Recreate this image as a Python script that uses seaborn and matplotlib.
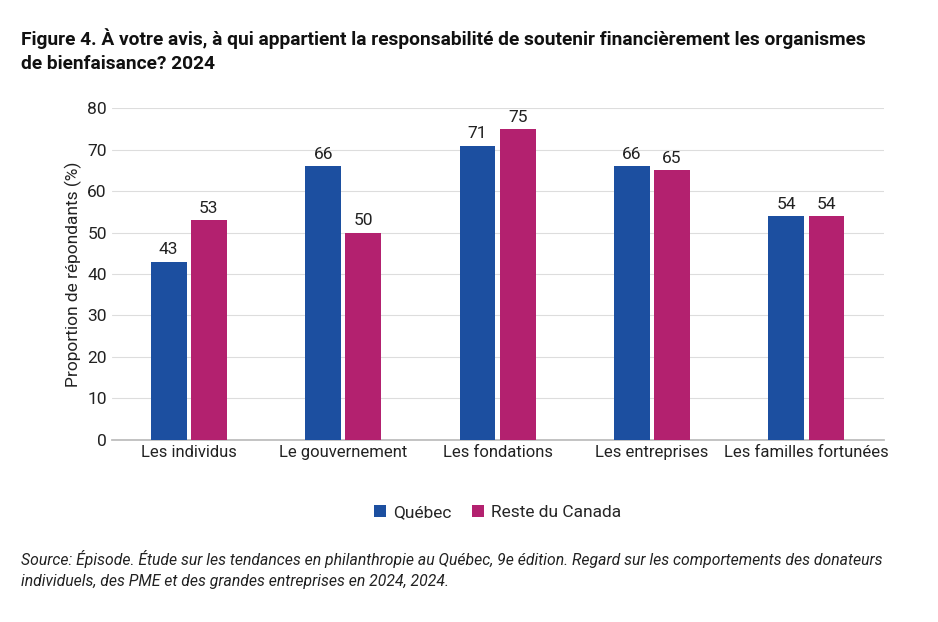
import matplotlib
matplotlib.use('Agg')
import matplotlib.pyplot as plt
import seaborn as sns
import pandas as pd

# Données
categories = ["Les individus", "Le gouvernement", "Les fondations", "Les entreprises", "Les familles fortunées"]
quebec = [43, 66, 71, 66, 54]
reste_canada = [53, 50, 75, 65, 54]
series = ["Québec", "Reste du Canada"]
couleurs = ["#1c4fa0", "#b3216f"]

df = pd.DataFrame({
    "categorie": categories * 2,
    "valeur": quebec + reste_canada,
    "groupe": [series[0]] * len(categories) + [series[1]] * len(categories),
})

sns.set_theme(style="white")
plt.rcParams['font.family'] = ['Liberation Sans Narrow', 'Roboto', 'DejaVu Sans']

fig = plt.figure(figsize=(9.38, 6.22), dpi=100)
ax = fig.add_axes([0.119, 0.293, 0.823, 0.533])

sns.barplot(data=df, x="categorie", y="valeur", hue="groupe", palette=couleurs,
            saturation=1, width=0.52, gap=0.11, ax=ax, legend=True, zorder=3,
            edgecolor="none")

for cont in ax.containers:
    ax.bar_label(cont, fmt="%d", padding=3, fontsize=12.5, color="#222222")

ax.set_ylim(0, 80)
ax.set_yticks(range(0, 81, 10))
ax.yaxis.grid(True, color="#dddddd", linewidth=0.8, zorder=0)
ax.set_axisbelow(True)
for s in ["top", "right", "left"]:
    ax.spines[s].set_visible(False)
ax.spines["bottom"].set_color("#bbbbbb")
ax.tick_params(axis="both", labelsize=12.5, colors="#222222", length=0)
ax.tick_params(axis="x", labelsize=12)
ax.set_xlabel("")
ax.set_ylabel("Proportion de répondants (%)", fontsize=12.5, color="#222222")

ax.legend(loc="upper center", bbox_to_anchor=(0.5, -0.15), ncol=2, frameon=False,
          fontsize=12.5, handlelength=0.7, handleheight=0.7, handletextpad=0.4,
          columnspacing=1.2)

fig.text(0.022, 0.955, "Figure 4. À votre avis, à qui appartient la responsabilité de soutenir financièrement les organismes\nde bienfaisance? 2024",
         fontsize=13.8, fontweight="bold", va="top", ha="left", color="#111111", linespacing=1.45)

fig.text(0.022, 0.115, "Source: Épisode. Étude sur les tendances en philanthropie au Québec, 9e édition. Regard sur les comportements des donateurs\nindividuels, des PME et des grandes entreprises en 2024, 2024.",
         fontsize=11.3, style="italic", va="top", ha="left", color="#222222", linespacing=1.5)

fig.savefig("out.png", dpi=100, facecolor="white")
